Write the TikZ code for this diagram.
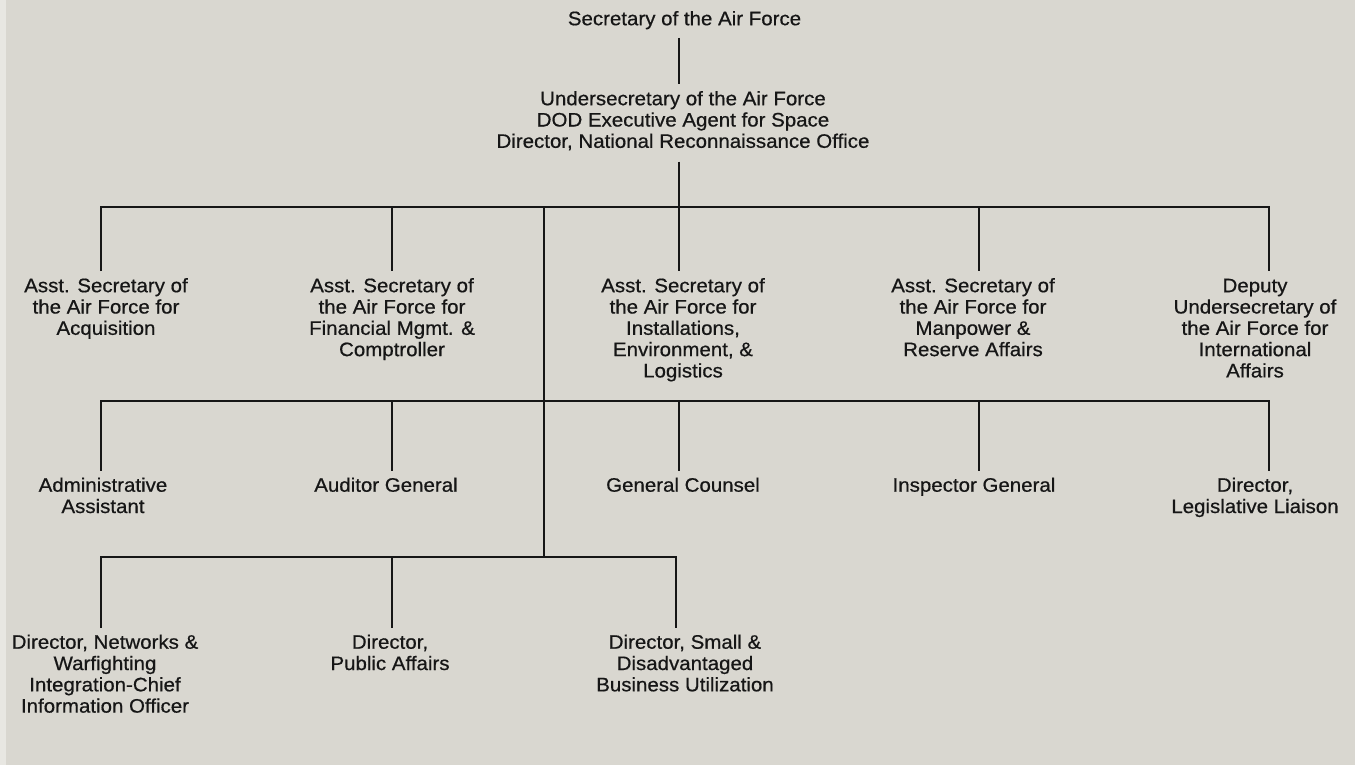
\documentclass[tikz,border=0pt]{standalone}
\usepackage{fontspec}
\setmainfont{Liberation Sans}[FakeStretch=1.05,FakeBold=0.6]
\definecolor{bgc}{HTML}{D9D7D0}
\definecolor{edgec}{HTML}{E8E7E2}
\definecolor{inkc}{HTML}{161616}
\tikzset{
  lbl/.style={anchor=north, inner xsep=0pt, inner ysep=6pt, align=center, text=inkc,
    font=\fontsize{19.5}{21.3}\selectfont},
  conn/.style={draw=inkc, line width=2.8pt}
}
\begin{document}
\begin{tikzpicture}[x=1pt,y=-1pt]
\useasboundingbox (0,0) rectangle (1355,765);
\fill[bgc] (0,0) rectangle (1355,765);
\fill[edgec] (0,0) rectangle (6,765);

% nodes
\node[lbl] (sec) at (684.5,4.1) {\strut Secretary of the Air Force};
\node[lbl] (und) at (683,84.1) {\strut Undersecretary of the Air Force\\DOD Executive Agent for Space\\Director, National Reconnaissance Office};

\node[lbl] (n21) at (106,271.1) {\strut Asst. Secretary of\\the Air Force for\\Acquisition};
\node[lbl] (n22) at (392,271.1) {\strut Asst. Secretary of\\the Air Force for\\Financial Mgmt. \&\\Comptroller};
\node[lbl] (n23) at (683,271.1) {\strut Asst. Secretary of\\the Air Force for\\Installations,\\Environment, \&\\Logistics};
\node[lbl] (n24) at (973,271.1) {\strut Asst. Secretary of\\the Air Force for\\Manpower \&\\Reserve Affairs};
\node[lbl] (n25) at (1255,271.1) {\strut Deputy\\Undersecretary of\\the Air Force for\\International\\Affairs};

\node[lbl] (n31) at (103,470.6) {\strut Administrative\\Assistant};
\node[lbl] (n32) at (386,470.6) {\strut Auditor General};
\node[lbl] (n33) at (683,470.6) {\strut General Counsel};
\node[lbl] (n34) at (974,470.6) {\strut Inspector General};
\node[lbl] (n35) at (1255,470.6) {\strut Director,\\Legislative Liaison};

\node[lbl] (n41) at (105,627.6) {\strut Director, Networks \&\\Warfighting\\Integration-Chief\\Information Officer};
\node[lbl] (n42) at (390,627.6) {\strut Director,\\Public Affairs};
\node[lbl] (n43) at (685,627.6) {\strut Director, Small \&\\Disadvantaged\\Business Utilization};

% junction coordinates
\coordinate (t0) at (679,37);
\coordinate (j1) at (679,207);
\coordinate (d21) at (101,207);
\coordinate (d22) at (392,207);
\coordinate (d24) at (979,207);
\coordinate (d25) at (1269,207);
\coordinate (k1) at (544,207);
\coordinate (k3) at (544,557);
\coordinate (d31) at (101,401);
\coordinate (d32) at (392,401);
\coordinate (d33) at (679,401);
\coordinate (d34) at (979,401);
\coordinate (d35) at (1269,401);
\coordinate (d41) at (101,557);
\coordinate (d42) at (392,557);
\coordinate (d43) at (676,557);

% connectors
\draw[conn] (sec.south -| t0) -- (t0 |- und.north);
\draw[conn, shorten <=5pt] (und.south -| j1) -- (j1);
\draw[conn] (d21 |- n21.north) -- (d21) -- (d25) -- (d25 |- n25.north);
\draw[conn] (d22) -- (d22 |- n22.north);
\draw[conn] (j1) -- (j1 |- n23.north);
\draw[conn] (d24) -- (d24 |- n24.north);
\draw[conn] (k1) -- (k3);
\draw[conn] (d31 |- n31.north) -- (d31) -- (d35) -- (d35 |- n35.north);
\draw[conn] (d32) -- (d32 |- n32.north);
\draw[conn] (d33) -- (d33 |- n33.north);
\draw[conn] (d34) -- (d34 |- n34.north);
\draw[conn] (d41 |- n41.north) -- (d41) -- (d43) -- (d43 |- n43.north);
\draw[conn] (d42) -- (d42 |- n42.north);
\end{tikzpicture}
\end{document}
